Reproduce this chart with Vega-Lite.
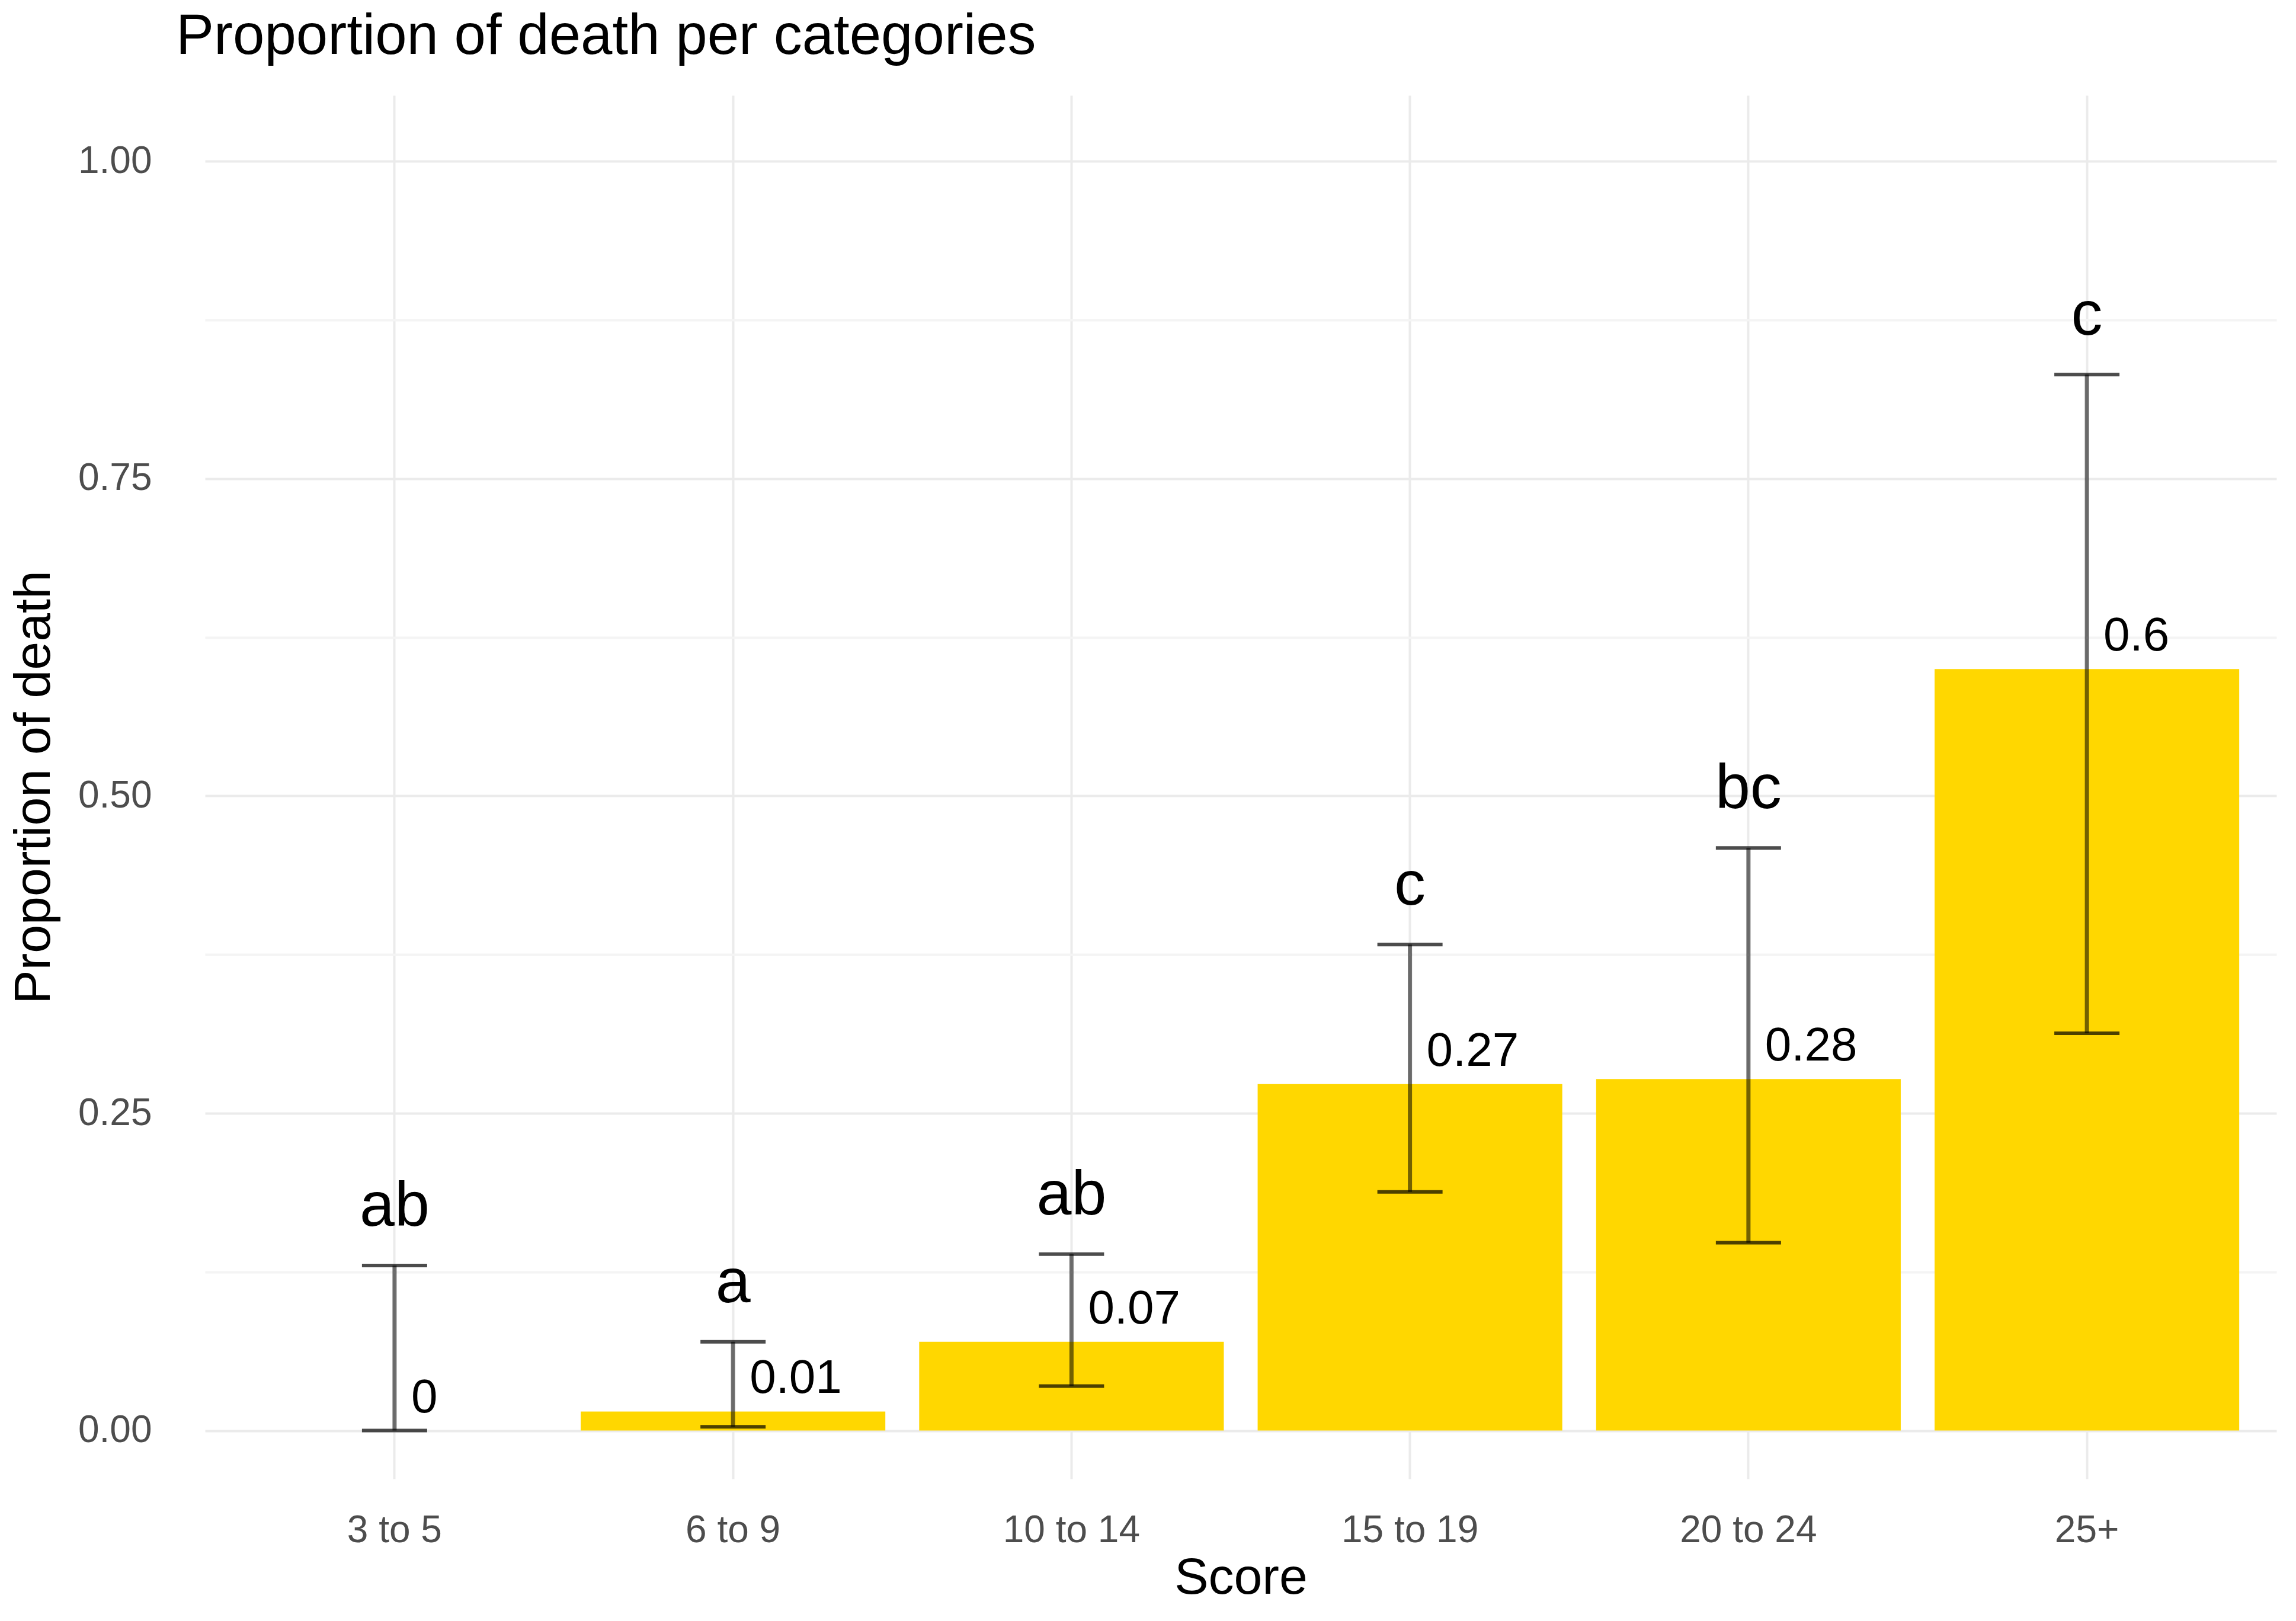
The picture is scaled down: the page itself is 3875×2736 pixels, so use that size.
{
  "$schema": "https://vega.github.io/schema/vega-lite/v6.json",
  "autosize": "none",
  "padding": {"left": 346, "top": 161, "right": 33, "bottom": 240},
  "width": 3496,
  "height": 2335,
  "background": "white",
  "title": {"text": "Proportion of death per categories", "anchor": "start", "frame": "group", "dx": -49, "offset": 50, "fontSize": 96, "font": "Liberation Sans", "fontWeight": "normal", "color": "#000000"},
  "config": {"view": {"stroke": null}, "font": "Liberation Sans"},
  "data": {
    "values": [
      {"score": "3 to 5", "p": 0, "lo": 0, "hi": 0.13, "lab": "0", "grp": "ab"},
      {"score": "6 to 9", "p": 0.015, "lo": 0.003, "hi": 0.07, "lab": "0.01", "grp": "a"},
      {"score": "10 to 14", "p": 0.07, "lo": 0.035, "hi": 0.139, "lab": "0.07", "grp": "ab"},
      {"score": "15 to 19", "p": 0.273, "lo": 0.188, "hi": 0.383, "lab": "0.27", "grp": "c"},
      {"score": "20 to 24", "p": 0.277, "lo": 0.148, "hi": 0.459, "lab": "0.28", "grp": "bc"},
      {"score": "25+", "p": 0.6, "lo": 0.313, "hi": 0.832, "lab": "0.6", "grp": "c"}
    ]
  },
  "encoding": {
    "x": {"field": "score", "type": "nominal", "sort": null, "scale": {"paddingInner": 0.1, "paddingOuter": 0.11},
      "axis": {"title": "Score", "titleFontSize": 86, "titleFontWeight": "normal", "titleColor": "#000", "titlePadding": 6, "labelFontSize": 64, "labelLimit": 0, "labelColor": "#4d4d4d", "labelAngle": 0, "labelPadding": 55, "ticks": false, "domain": false, "grid": true, "gridColor": "#ebebeb", "gridWidth": 4, "bandPosition": 0.5}}
  },
  "layer": [
    {
      "mark": {"type": "bar", "color": "#FFD700"},
      "encoding": {
        "y": {"field": "p", "type": "quantitative", "scale": {"domain": [-0.038, 1.052], "nice": false, "zero": false},
          "axis": {"title": "Proportion of death", "values": [0, 0.125, 0.25, 0.375, 0.5, 0.625, 0.75, 0.875, 1], "format": ".2f",
            "labelExpr": "datum.value % 0.25 == 0 ? format(datum.value, '.2f') : ''",
            "titleFontSize": 86, "titleFontWeight": "normal", "titleColor": "#000", "titlePadding": 45, "labelFontSize": 64, "labelColor": "#4d4d4d", "labelPadding": 90, "ticks": false, "domain": false,
            "gridWidth": 4, "gridColor": {"condition": {"test": "datum.value % 0.25 == 0", "value": "#ebebeb"}, "value": "#f4f4f4"}}}
      }
    },
    {
      "mark": {"type": "rule", "color": "#000", "opacity": 0.55, "strokeWidth": 7},
      "encoding": {"y": {"field": "lo", "type": "quantitative"}, "y2": {"field": "hi"}}
    },
    {
      "mark": {"type": "tick", "color": "#000", "thickness": 6, "size": 110},
      "encoding": {"y": {"field": "lo", "type": "quantitative"}}
    },
    {
      "mark": {"type": "tick", "color": "#000", "thickness": 6, "size": 110},
      "encoding": {"y": {"field": "hi", "type": "quantitative"}}
    },
    {
      "mark": {"type": "text", "fontSize": 80, "align": "left", "baseline": "bottom", "dx": 28, "dy": -14, "color": "#000"},
      "encoding": {"y": {"field": "p", "type": "quantitative"}, "text": {"field": "lab"}}
    },
    {
      "mark": {"type": "text", "fontSize": 106, "align": "center", "baseline": "bottom", "dy": -45, "color": "#000"},
      "encoding": {"y": {"field": "hi", "type": "quantitative"}, "text": {"field": "grp"}}
    }
  ]
}
